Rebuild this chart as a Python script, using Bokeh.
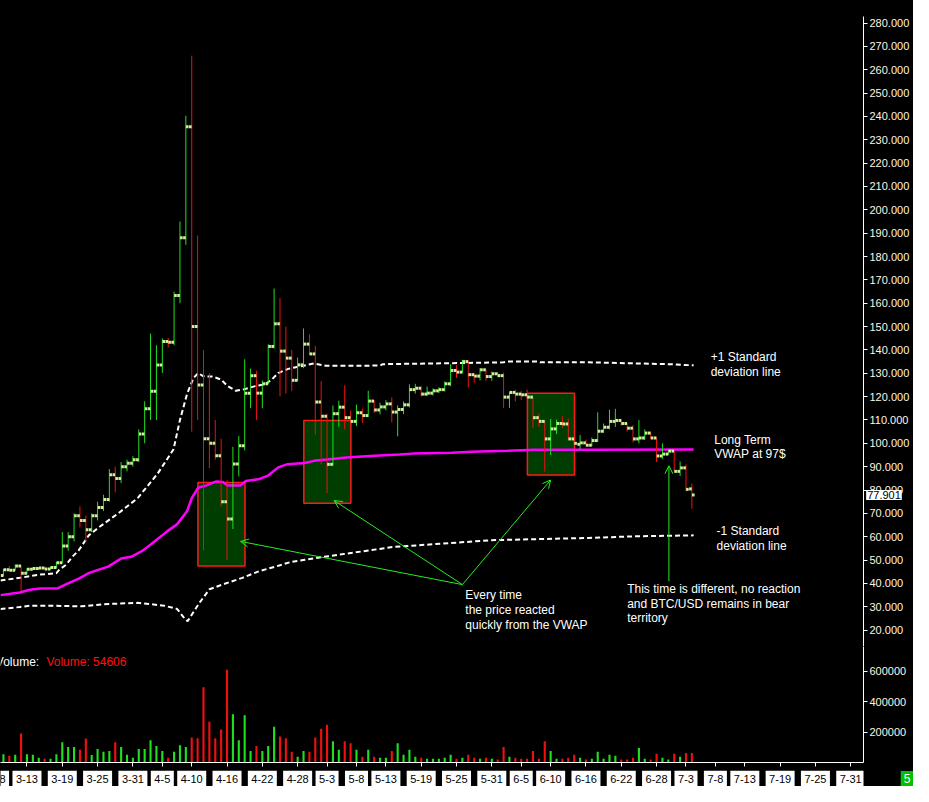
import pandas as pd
from bokeh.plotting import figure
from bokeh.models import (Range1d, FixedTicker, NumeralTickFormatter, ColumnDataSource,
                          Label, Arrow, OpenHead, CustomLabelingPolicy)
from bokeh.layouts import column
from bokeh.embed import file_html
from bokeh.resources import INLINE
from bokeh.core.properties import value

# ---------------- data ----------------
first_date = "2013-03-09"
base_date = "2013-03-13"

opens = [43.4, 45.9, 45.7, 47.5, 44.4, 46.1, 46.4, 46.6, 46.2, 46.8,
         48.9, 56.0, 60.0, 69.0, 67.0, 63.0, 69.0, 72.5, 76.0, 86.5,
         85.0, 90.0, 91.5, 93.0, 104.0, 114.8, 122.3, 133.6, 143.6, 143.3,
         163.3, 188.0, 235.6, 150.0, 125.0, 102.0, 100.0, 94.7, 75.0, 67.6,
         91.2, 99.0, 121.5, 129.0, 121.5, 125.5, 141.5, 151.2, 139.5, 136.5,
         127.0, 133.6, 142.5, 138.3, 117.7, 111.6, 91.0, 112.7, 115.5, 111.0,
         109.4, 113.1, 111.9, 118.1, 114.3, 115.6, 116.9, 113.4, 114.5, 116.5,
         123.0, 123.6, 121.1, 121.5, 122.5, 123.0, 125.5, 131.2, 130.5, 135.0,
         129.4, 128.8, 131.5, 128.6, 129.8, 129.0, 119.8, 121.8, 121.1, 120.8,
         119.8, 111.0, 109.4, 101.9, 106.2, 108.5, 108.3, 101.9, 99.6, 100.2,
         99.2, 101.2, 105.2, 106.9, 109.4, 109.8, 108.5, 106.5, 101.9, 102.3,
         104.4, 102.3, 94.6, 95.4, 96.7, 88.0, 89.5, 80.5]
highs = [46.2, 47.5, 48.0, 47.8, 46.6, 47.0, 46.9, 46.9, 47.2, 49.2,
         62.0, 62.0, 70.0, 73.0, 69.0, 70.0, 75.0, 78.0, 89.0, 90.0,
         92.0, 93.0, 94.5, 106.0, 118.0, 147.0, 142.0, 145.0, 145.2, 165.0,
         195.0, 240.3, 266.0, 189.0, 140.0, 130.0, 110.0, 102.0, 84.4, 98.5,
         103.2, 136.0, 132.0, 131.1, 126.9, 142.4, 166.3, 162.2, 150.0, 140.0,
         136.7, 149.2, 146.7, 141.7, 126.6, 112.7, 116.2, 118.3, 124.9, 114.0,
         116.6, 114.9, 122.5, 118.5, 117.4, 118.5, 119.7, 116.3, 118.0, 125.3,
         125.5, 124.4, 124.3, 123.5, 124.0, 126.6, 133.9, 133.6, 135.8, 135.5,
         130.3, 132.3, 131.8, 130.8, 130.5, 130.3, 122.1, 123.0, 122.5, 123.0,
         120.0, 112.7, 109.8, 110.4, 110.2, 111.6, 110.6, 102.5, 103.6, 101.6,
         102.5, 113.3, 108.5, 114.4, 114.8, 110.5, 108.8, 107.8, 110.0, 106.0,
         105.0, 102.4, 100.0, 97.5, 96.8, 92.2, 91.0, 82.8]
lows = [43.0, 45.3, 45.5, 36.8, 44.0, 45.8, 46.0, 45.9, 46.0, 46.4,
        48.5, 54.0, 58.0, 64.0, 58.0, 62.0, 67.0, 71.0, 75.0, 79.0,
        83.0, 88.0, 90.0, 92.0, 100.0, 110.0, 110.0, 130.1, 141.0, 142.0,
        160.0, 185.0, 105.0, 110.0, 54.2, 89.4, 93.0, 73.0, 50.0, 63.3,
        85.8, 97.0, 115.1, 110.0, 115.0, 125.3, 140.6, 120.1, 121.3, 122.5,
        126.7, 132.2, 138.0, 103.8, 91.0, 78.7, 90.5, 107.1, 106.0, 108.5,
        107.4, 108.8, 111.3, 113.0, 112.4, 114.1, 109.0, 103.0, 112.5, 115.4,
        121.3, 120.0, 120.2, 120.5, 121.5, 122.2, 124.5, 128.0, 130.0, 123.9,
        125.9, 127.0, 126.8, 126.8, 128.2, 115.2, 115.2, 118.0, 118.5, 119.3,
        106.5, 107.0, 87.9, 95.0, 104.0, 106.6, 101.5, 99.5, 97.4, 98.5,
        98.8, 100.6, 104.5, 106.0, 107.0, 107.6, 105.0, 100.4, 100.0, 101.5,
        101.8, 92.0, 93.4, 95.0, 87.5, 86.0, 79.5, 72.0]
closes = [45.9, 45.7, 47.5, 44.4, 46.1, 46.4, 46.6, 46.2, 46.8, 48.9,
          56.0, 60.0, 69.0, 67.0, 63.0, 69.0, 72.5, 76.0, 86.5, 85.0,
          90.0, 91.5, 93.0, 104.0, 114.8, 122.3, 133.6, 143.6, 143.3, 163.3,
          188.0, 235.6, 150.0, 125.0, 102.0, 100.0, 94.7, 75.0, 67.6, 91.2,
          99.0, 121.5, 129.0, 121.5, 125.5, 141.5, 151.2, 139.5, 136.5, 127.0,
          133.6, 142.5, 138.3, 117.7, 111.6, 91.0, 112.7, 115.5, 111.0, 109.4,
          113.1, 111.9, 118.1, 114.3, 115.6, 116.9, 113.4, 114.5, 116.5, 123.0,
          123.6, 121.1, 121.5, 122.5, 123.0, 125.5, 131.2, 130.5, 135.0, 129.4,
          128.8, 131.5, 128.6, 129.8, 129.0, 119.8, 121.8, 121.1, 120.8, 119.8,
          111.0, 109.4, 101.9, 106.2, 108.5, 108.3, 101.9, 100.0, 100.2, 99.2,
          101.2, 105.2, 106.9, 109.4, 109.8, 108.5, 106.5, 101.9, 102.3, 104.4,
          102.3, 94.6, 95.4, 96.7, 88.0, 89.5, 80.3, 77.9]
volumes = [55, 44, 51, 190, 55, 51, 32, 25, 25, 55,
           133, 102, 102, 83, 157, 49, 89, 70, 76, 133,
           102, 51, 32, 89, 89, 146, 108, 76, 32, 70,
           114, 102, 165, 159, 495, 267, 159, 216, 610, 317,
           146, 311, 76, 108, 76, 108, 235, 171, 159, 70,
           38, 76, 70, 165, 222, 248, 140, 83, 140, 127,
           83, 38, 83, 38, 32, 32, 76, 127, 51, 83,
           38, 32, 25, 25, 25, 32, 51, 25, 32, 51,
           32, 25, 32, 25, 19, 102, 38, 32, 25, 25,
           76, 25, 140, 76, 25, 25, 32, 51, 32, 19,
           25, 70, 25, 51, 44, 19, 19, 32, 95, 25,
           19, 57, 32, 19, 57, 38, 63, 63]  # thousands

# indicator lines (day offset from base_date, value)
vwap_day = [-4.5, -1.2, 0.5, 2.2, 5.2, 6.7, 8.8, 10.5, 12.2, 13.8, 16.0, 17.7, 19.3, 20.5,
            23.0, 23.8, 25.5, 27.2, 28.0, 29.1, 30.5, 32.2, 33.3, 34.1, 36.3, 37.2, 39.3,
            41.0, 42.7, 44.3, 47.2, 48.8, 51.0, 54.3, 58.3, 63.3, 65.5, 72.2, 75.5, 81.7,
            86.3, 95.5, 113.3]
vwap_val = [35.0, 36.1, 37.3, 37.8, 37.9, 39.7, 42.1, 44.4, 45.9, 47.2, 50.7, 51.4, 53.5, 55.6,
            60.6, 62.3, 65.3, 70.9, 76.5, 81.0, 82.0, 83.7, 83.5, 82.0, 82.0, 83.9, 84.6,
            86.2, 89.7, 91.1, 91.6, 92.5, 93.1, 93.9, 94.6, 95.2, 95.6, 96.0, 96.4, 96.8,
            97.3, 97.3, 97.4]
upper_day = [-4.5, -1.2, 2.2, 5.0, 5.5, 6.7, 7.7, 8.8, 10.5, 12.2, 15.5, 18.8, 22.2, 24.9,
             26.0, 27.2, 28.3, 29.1, 30.0, 31.6, 33.0, 34.1, 35.5, 36.9, 38.8, 40.5, 41.6,
             42.7, 44.4, 45.5, 48.8, 50.8, 60.0, 60.5, 71.0, 81.0, 81.7, 86.7, 87.2, 95.5,
             109.2, 113.3]
upper_val = [41.3, 42.4, 43.8, 44.4, 45.9, 48.1, 51.4, 54.2, 60.6, 64.0, 70.0, 76.5, 87.0, 97.4,
             110.0, 121.1, 128.0, 130.1, 128.7, 128.6, 127.3, 124.5, 122.5, 123.2, 124.5, 125.3, 127.3,
             130.1, 131.9, 132.5, 134.2, 133.2, 133.3, 133.9, 134.3, 134.7, 135.1, 135.1, 134.7, 134.7,
             133.9, 133.4]
lower_day = [-4.5, -1.2, 0.5, 3.8, 9.3, 13.8, 18.8, 23.3, 25.5, 26.6, 27.3, 28.3, 29.4,
             31.0, 33.3, 36.6, 39.4, 42.2, 45.0, 50.5, 62.2, 78.8, 95.5, 103.3, 113.3]
lower_val = [29.1, 29.9, 30.5, 30.5, 30.2, 31.2, 31.7, 30.5, 29.1, 25.6, 23.8, 27.8, 32.0,
             37.5, 39.6, 42.4, 45.2, 47.2, 49.3, 51.4, 55.6, 58.5, 59.5, 60.2, 60.6]

tick_dates = ["2013-03-08", "2013-03-13", "2013-03-19", "2013-03-25", "2013-03-31",
              "2013-04-05", "2013-04-10", "2013-04-16", "2013-04-22", "2013-04-28",
              "2013-05-03", "2013-05-08", "2013-05-13", "2013-05-19", "2013-05-25",
              "2013-05-31", "2013-06-05", "2013-06-10", "2013-06-16", "2013-06-22",
              "2013-06-28", "2013-07-03", "2013-07-08", "2013-07-13", "2013-07-19",
              "2013-07-25", "2013-07-31"]
price_ticks = list(range(20, 290, 10))
volume_ticks = [200000, 400000, 600000]
last_price = 77.901
last_volume = 54606

# boxes (day start, day end, price bottom, price top)
box_x0 = [29.05, 47.05, 85.05]
box_x1 = [37.05, 55.05, 93.05]
box_y0 = [47.5, 74.3, 86.4]
box_y1 = [83.2, 109.8, 121.5]

# ---------------- derived ----------------
base = pd.Timestamp(base_date)
dates = pd.date_range(first_date, periods=len(opens), freq="D")
day = [(d - base).days for d in dates]
GREEN = "#1fe01f"
RED = "#f01010"
colors = [GREEN if c >= o else RED for o, c in zip(opens, closes)]
vol = [v * 1000 for v in volumes]
tdays = [(pd.Timestamp(t) - base).days for t in tick_dates]
tlabels = [f"{pd.Timestamp(t).month}-{pd.Timestamp(t).day}" for t in tick_dates]

src = ColumnDataSource(dict(
    x=day, xo=[d - 0.24 for d in day], xc=[d + 0.24 for d in day],
    o=opens, h=highs, l=lows, c=closes, v=vol, col=colors))

W = 913
RB = 50
TOP = 16
X0, X1 = -4.5, 142.17
xr = Range1d(X0, X1)
FONT = "Liberation Sans"
AXCOL = "#fff6e0"
SQ = "#ccf29a"
ARROW = "#22ee22"


def style_axis(ax):
    ax.axis_line_color = "white"
    ax.major_tick_line_color = "white"
    ax.minor_tick_line_color = None
    ax.major_tick_in = 0
    ax.major_tick_out = 4
    ax.major_label_text_color = AXCOL
    ax.major_label_text_font = FONT
    ax.major_label_text_font_size = "11px"
    ax.major_label_standoff = 2


def tag(pad, **kw):
    try:
        return Label(padding=pad, **kw)
    except (AttributeError, ValueError, TypeError):
        return Label(**kw)


def base_fig(height, yr, **kw):
    f = figure(width=W, height=height, x_range=xr, y_range=yr,
               output_backend="svg", toolbar_location=None,
               min_border=0, min_border_right=RB,
               background_fill_color="black", border_fill_color="black",
               outline_line_color=None, **kw)
    f.grid.visible = False
    return f


# ---------------- price panel ----------------
p = base_fig(646, Range1d(13.0, 282.8), y_axis_location="right", x_axis_location=None)
p.min_border_top = TOP
p.yaxis.ticker = FixedTicker(ticks=price_ticks)
p.yaxis.formatter = NumeralTickFormatter(format="0.000")
style_axis(p.yaxis[0])

p.quad(left=box_x0, right=box_x1, bottom=box_y0, top=box_y1,
       fill_color="#003d00", line_color="#ff1a1a", line_width=1.5)

p.line(upper_day, upper_val, line_color="white", line_width=2, line_dash="5 3")
p.line(lower_day, lower_val, line_color="white", line_width=2, line_dash="5 3")
p.line(vwap_day, vwap_val, line_color="#ff00ff", line_width=2.5)

p.segment(x0="x", y0="l", x1="x", y1="h", line_color="col", line_width=1, source=src)
p.rect(x="xo", y="o", width=0.44, height=3, height_units="screen",
       fill_color=SQ, line_color=None, source=src)
p.rect(x="xc", y="c", width=0.44, height=3, height_units="screen",
       fill_color=SQ, line_color=None, source=src)

for x0, y0, x1, y1 in [(74.0, 39.5, 36.3, 58.0), (74.0, 39.5, 52.2, 75.5),
                       (74.0, 39.5, 89.0, 84.3), (109.1, 41.0, 109.1, 90.4)]:
    p.add_layout(Arrow(end=OpenHead(size=8, line_color=ARROW, line_width=1),
                       x_start=x0, y_start=y0, x_end=x1, y_end=y1,
                       line_color=ARROW, line_width=1))


def note(x, ys, lines):
    p.text(x=[x] * len(lines), y=ys, text=lines, text_color="white",
           text_font=value(FONT), text_font_size="12px", text_baseline="middle")


note(116.2, [137.1, 130.4], ["+1 Standard", "deviation line"])
note(116.8, [101.6, 95.3], ["Long Term", "VWAP at 97$"])
note(117.2, [62.3, 56.0], ["-1 Standard", "deviation line"])
note(74.5, [35.1, 28.7, 22.3], ["Every time", "the price reacted", "quickly from the VWAP"])
note(102.0, [37.6, 31.4, 25.1], ["This time is different, no reaction",
                                 "and BTC/USD remains in bear", "territory"])

# last-price tag beside the price axis (side-panel annotation, so not clipped)
p.add_layout(tag(1, x=X1 + 0.45, y=last_price, text=f"{last_price:.3f}",
                 text_color="black", text_font=FONT, text_font_size="11px",
                 text_baseline="middle", text_align="left",
                 background_fill_color="white"), "above")

# ---------------- volume panel ----------------
v = base_fig(124, Range1d(0, 762000), y_axis_location="right", x_axis_location="below")
v.min_border_bottom = 4
v.yaxis.ticker = FixedTicker(ticks=volume_ticks)
v.yaxis.formatter = NumeralTickFormatter(format="0")
style_axis(v.yaxis[0])
xa = v.xaxis[0]
style_axis(xa)
xa.ticker = FixedTicker(ticks=tdays)
xa.major_label_text_color = "black"
xa.major_label_text_font_size = "1px"
xa.major_label_standoff = 0
xa.major_label_policy = CustomLabelingPolicy(code="return []")  # dates are shown in the strip below

v.vbar(x="x", top="v", width=0.36, fill_color="col", line_color=None, source=src)
v.text(x=[-5.3], y=[660000], text=["Volume:"], text_color="white",
       text_font=value(FONT), text_font_size="12px", text_baseline="middle")
v.text(x=[3.3], y=[660000], text=[f"Volume: {last_volume}"], text_color="#ff1010",
       text_font=value(FONT), text_font_size="12px", text_baseline="middle")

# ---------------- date strip ----------------
s = base_fig(16, Range1d(0, 1), x_axis_location=None, y_axis_location=None)
ssrc = ColumnDataSource(dict(x=tdays, y=[0.5] * len(tdays), t=tlabels,
                             w=[len(t) * 6 + 5 for t in tlabels]))
s.rect(x="x", y="y", width="w", height=16, width_units="screen",
       height_units="screen", fill_color="white", line_color=None, source=ssrc)
s.text(x="x", y="y", text="t", text_align="center", text_baseline="middle",
       text_font=value(FONT), text_font_size="11px", text_color="black", source=ssrc)
s.add_layout(tag(3, x=X1 + 7.4, y=0.5, text="5", text_align="center",
                 text_baseline="middle", text_color="white", text_font=FONT,
                 text_font_size="12px", background_fill_color="#00c000"), "right")

layout = column(p, v, s, spacing=0, styles={"background-color": "black"})
open("out.html", "w").write(file_html(layout, INLINE))
